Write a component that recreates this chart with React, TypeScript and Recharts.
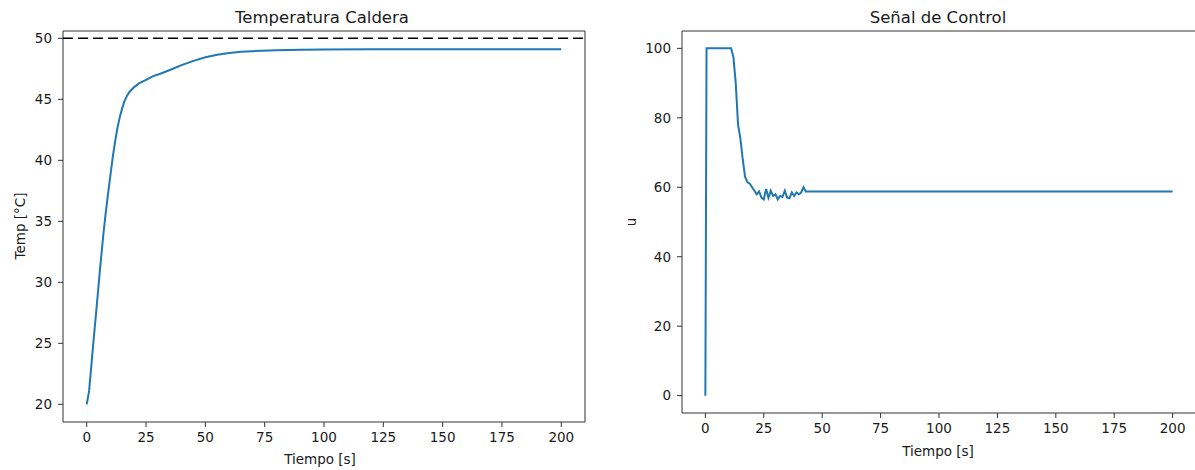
import { LineChart, Line, XAxis, YAxis, ReferenceLine, ReferenceArea } from 'recharts'

// Temperatura Caldera
const tempTime = [0, 1, 2, 3, 4, 5, 6, 7, 8, 9, 10, 11, 12, 13, 14, 15, 16, 17, 18, 20, 22, 25, 28, 31, 35, 40, 45, 50, 55, 60, 65, 70, 80, 90, 100, 120, 140, 160, 180, 200]
const tempValues = [20.0, 21.1, 23.3, 25.5, 27.6, 29.8, 31.9, 33.9, 35.7, 37.3, 38.8, 40.3, 41.6, 42.7, 43.6, 44.3, 44.9, 45.3, 45.6, 46.0, 46.3, 46.6, 46.9, 47.1, 47.4, 47.8, 48.15, 48.45, 48.65, 48.8, 48.9, 48.95, 49.02, 49.06, 49.08, 49.1, 49.1, 49.1, 49.1, 49.1]
const setpoint = 50

// Señal de Control
const ctrlTime = [0, 0.5, 2, 4, 6, 8, 10, 11, 12, 13, 14, 15, 16, 17, 18, 19, 20, 21, 22, 23, 24, 25, 26, 27, 28, 29, 30, 31, 32, 33, 34, 35, 36, 37, 38, 39, 40, 41, 42, 43, 44, 50, 100, 150, 200]
const ctrlValues = [0, 100, 100, 100, 100, 100, 100, 100, 97.5, 90, 78, 74, 68, 63, 61.5, 61, 60, 59, 58, 58.8, 57, 56.5, 59.5, 57, 59, 57.5, 58, 56.5, 57.5, 57.2, 59, 57, 56.8, 58.5, 57.5, 58.5, 58, 58.5, 60, 58.8, 58.8, 58.8, 58.8, 58.8, 58.8]

const xTicks = [0, 25, 50, 75, 100, 125, 150, 175, 200]
const tempTicks = [20, 25, 30, 35, 40, 45, 50]
const ctrlTicks = [0, 20, 40, 60, 80, 100]

const tempData = tempTime.map((t, i) => ({ t, v: tempValues[i] }))
const ctrlData = ctrlTime.map((t, i) => ({ t, v: ctrlValues[i] }))

const FONT = '"DejaVu Sans", sans-serif'
const BLUE = '#1f77b4'
const INK = '#1a1a1a'
const tick = { fill: INK, fontSize: 13.5, fontFamily: FONT }

const textStyle: React.CSSProperties = {
  position: 'absolute',
  fontFamily: FONT,
  color: INK,
  whiteSpace: 'nowrap',
  transform: 'translate(-50%, -50%)',
}

export default function App() {
  return (
    <div style={{ position: 'absolute', left: 0, top: 0, width: 1195, height: 470, overflow: 'hidden', background: '#fff' }}>
      {/* left panel */}
      <div style={{ position: 'absolute', left: 0, top: 0 }}>
        <LineChart width={600} height={470} data={tempData} margin={{ top: 31, right: 15, bottom: 18, left: 13 }}>
          <XAxis
            dataKey="t"
            type="number"
            domain={[-10, 210]}
            ticks={xTicks}
            tick={tick}
            tickSize={5}
            tickMargin={5}
            axisLine={false}
            stroke="#333"
            height={30}
          />
          <YAxis
            type="number"
            domain={[18.55, 50.6]}
            ticks={tempTicks}
            tick={tick}
            tickSize={5}
            tickMargin={6}
            axisLine={false}
            stroke="#333"
            width={50}
          />
          <ReferenceArea x1={-10} x2={210} y1={18.55} y2={50.6} fill="none" stroke="#333" strokeWidth={1} />
          <ReferenceLine y={setpoint} stroke="#000" strokeWidth={1.5} strokeDasharray="10 5" />
          <Line dataKey="v" stroke={BLUE} strokeWidth={2} dot={false} isAnimationActive={false} />
        </LineChart>
      </div>
      {/* right panel */}
      <div style={{ position: 'absolute', left: 600, top: 0 }}>
        <LineChart width={600} height={470} data={ctrlData} margin={{ top: 31, right: 4, bottom: 27, left: 32 }}>
          <XAxis
            dataKey="t"
            type="number"
            domain={[-10, 210]}
            ticks={xTicks}
            tick={tick}
            tickSize={5}
            tickMargin={5}
            axisLine={false}
            stroke="#333"
            height={30}
          />
          <YAxis
            type="number"
            domain={[-5, 105]}
            ticks={ctrlTicks}
            tick={tick}
            tickSize={5}
            tickMargin={6}
            axisLine={false}
            stroke="#333"
            width={50}
          />
          <ReferenceArea x1={-10} x2={210} y1={-5} y2={105} fill="none" stroke="#333" strokeWidth={1} />
          <Line dataKey="v" stroke={BLUE} strokeWidth={2} dot={false} isAnimationActive={false} />
        </LineChart>
      </div>

      <div style={{ ...textStyle, left: 322, top: 17, fontSize: 16.5 }}>Temperatura Caldera</div>
      <div style={{ ...textStyle, left: 938, top: 17, fontSize: 16.5 }}>Señal de Control</div>
      <div style={{ ...textStyle, left: 320, top: 459, fontSize: 13.5 }}>Tiempo [s]</div>
      <div style={{ ...textStyle, left: 938, top: 451, fontSize: 13.5 }}>Tiempo [s]</div>
      <div style={{ ...textStyle, left: 20, top: 226, fontSize: 13.5, transform: 'translate(-50%, -50%) rotate(-90deg)' }}>Temp [°C]</div>
      <div style={{ ...textStyle, left: 631, top: 222, fontSize: 13.5, transform: 'translate(-50%, -50%) rotate(-90deg)' }}>u</div>
    </div>
  )
}
